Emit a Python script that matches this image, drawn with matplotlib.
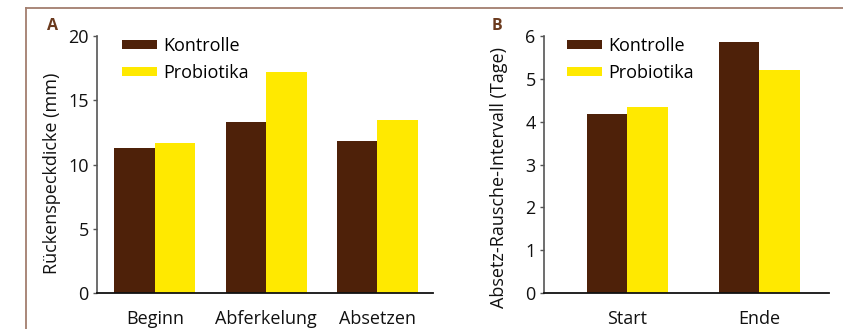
import matplotlib
matplotlib.use("Agg")
import matplotlib.pyplot as plt
from matplotlib.lines import Line2D
import numpy as np

plt.rcParams['font.family'] = ['Open Sans', 'DejaVu Sans']

# Data
series_names = ["Kontrolle", "Probiotika"]
cats_a = ["Beginn", "Abferkelung", "Absetzen"]
kontrolle_a = [11.25, 13.3, 11.8]
probiotika_a = [11.65, 17.2, 13.45]
cats_b = ["Start", "Ende"]
kontrolle_b = [4.18, 5.85]
probiotika_b = [4.34, 5.21]
ylabel_a = "Rückenspeckdicke (mm)"
ylabel_b = "Absetz-Rausche-Intervall (Tage)"
yticks_a = [0, 5, 10, 15, 20]
yticks_b = [0, 1, 2, 3, 4, 5, 6]

brown = "#4E2109"
yellow = "#FFE900"
frame_col = "#A27E6E"
label_col = "#6B3A1E"
FS = 13

W, H = 843, 329
fig = plt.figure(figsize=(W / 100, H / 100), dpi=100)

def fx(px):
    return px / W

def fy(py):
    return 1 - py / H

ax_a = fig.add_axes([fx(97), fy(293), fx(433) - fx(97), fy(36) - fy(293)])
ax_b = fig.add_axes([fx(544), fy(293), fx(829) - fx(544), fy(36) - fy(293)])

def style(ax, cats, k, p, width, xlim, ylim, yticks, ylabel, leg_anchor):
    x = np.arange(len(cats))
    b1 = ax.bar(x - width / 2, k, width, color=brown, label=series_names[0])
    b2 = ax.bar(x + width / 2, p, width, color=yellow, label=series_names[1])
    ax.set_xlim(*xlim)
    ax.set_ylim(*ylim)
    ax.set_yticks(yticks)
    ax.set_xticks(x)
    ax.set_xticklabels(cats)
    for s in ["top", "right"]:
        ax.spines[s].set_visible(False)
    ax.spines["left"].set_color("#555555")
    ax.spines["left"].set_linewidth(1.2)
    ax.spines["bottom"].set_color("#111111")
    ax.spines["bottom"].set_linewidth(1.3)
    ax.tick_params(axis="x", length=0, pad=12, labelsize=FS, colors="#111111")
    ax.tick_params(axis="y", length=3, width=1, pad=3, labelsize=FS, colors="#111111")
    ax.tick_params(axis="y", color="#555555")
    ax.set_ylabel(ylabel, fontsize=FS, color="#111111")
    ax.legend(handles=[b1, b2], loc="upper left", frameon=False,
              fontsize=FS, handlelength=1.95, handleheight=0.4,
              handletextpad=0.35, labelspacing=0.5,
              borderaxespad=0, borderpad=0,
              bbox_to_anchor=leg_anchor, bbox_transform=ax.transAxes)

style(ax_a, cats_a, kontrolle_a, probiotika_a, 0.365, (-0.52, 2.5), (0, 20),
      yticks_a, ylabel_a, (0.073, 0.997))
ax_a.yaxis.set_label_coords(-0.107, 0.465)

style(ax_b, cats_b, kontrolle_b, probiotika_b, 0.307, (-0.63, 1.53), (0, 6),
      yticks_b, ylabel_b, (0.08, 0.997))
ax_b.yaxis.set_label_coords(-0.128, 0.45)

# Panel letters
fig.text(fx(47), fy(25.5), "A", fontsize=11.5, fontweight="bold", color=label_col,
         va="center", ha="left")
fig.text(fx(492), fy(25.5), "B", fontsize=11.5, fontweight="bold", color=label_col,
         va="center", ha="left")

# Outer frame decorations
fig.add_artist(Line2D([fx(26), 1], [fy(8), fy(8)], color=frame_col, lw=1.3))
fig.add_artist(Line2D([fx(26), fx(26)], [0, fy(8)], color=frame_col, lw=1.3))

fig.savefig("out.png", dpi=100)
